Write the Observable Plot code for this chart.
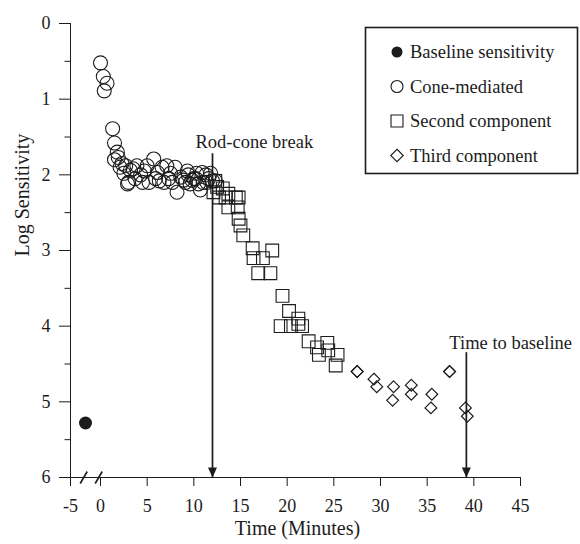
<!DOCTYPE html>
<html>
<head>
<meta charset="utf-8">
<script src="https://cdn.jsdelivr.net/npm/d3@7"></script>
<script src="https://cdn.jsdelivr.net/npm/@observablehq/plot@0.6"></script>
<style>
  body { margin: 0; background: #fff; }
  #chart { position: relative; width: 580px; height: 544px; }
</style>
</head>
<body>
<div id="chart"></div>
<script>
// ---- data ----
const xTicks = [-5, 0, 5, 10, 15, 20, 25, 30, 35, 40, 45];
const yTicks = [0, 1, 2, 3, 4, 5, 6];
const yMinorTicks = [0.5, 1.5, 2.5, 3.5, 4.5, 5.5];
const axisBreaks = [-2.8, -0.3];

const baselineT = [-2.5];
const baselineV = [5.28];

const coneT = [0.0, 0.3, 0.7, 0.4, 1.3, 1.5, 1.8, 1.9, 1.5, 2.1, 2.5, 2.7, 2.9, 3.0, 3.2, 3.7, 3.9, 4.3, 4.5, 5.0,
  5.2, 5.7, 5.9, 6.1, 6.6, 6.8, 7.1, 7.5, 7.7, 8.0, 8.2, 8.6, 8.9, 9.1, 9.4, 9.6, 9.8, 10.0, 10.3, 10.5,
  10.7, 10.9, 11.0, 11.3, 11.4, 11.6, 12.0, 12.3, 2.3, 3.5, 4.7, 6.3, 7.3, 9.3, 10.2, 11.8];
const coneV = [0.52, 0.70, 0.79, 0.89, 1.39, 1.58, 1.70, 1.77, 1.80, 1.90, 1.98, 1.88, 2.12, 2.10, 1.94, 2.05, 1.88, 2.00, 2.10, 1.88,
  2.10, 1.79, 2.05, 1.97, 1.90, 2.10, 1.88, 1.98, 2.10, 1.90, 2.23, 2.03, 2.07, 2.10, 2.00, 2.12, 2.07, 2.05, 1.98, 2.12,
  2.20, 1.97, 2.10, 2.00, 2.10, 2.05, 2.08, 2.08, 1.85, 1.92, 1.95, 2.08, 2.05, 1.95, 2.05, 1.98];

const secondT = [12.3, 12.5, 12.1, 13.1, 13.4, 12.7, 13.7, 14.8, 14.5, 13.7, 14.7, 14.8, 15.0, 15.3, 16.3, 16.4, 17.4,
  18.4, 16.9, 18.2, 19.5, 20.2, 21.2, 19.3, 20.4, 21.6, 21.2, 22.3, 23.2, 24.3, 23.4, 24.4, 25.4, 25.2];
const secondV = [2.08, 2.16, 2.23, 2.18, 2.30, 2.30, 2.25, 2.30, 2.30, 2.43, 2.43, 2.58, 2.67, 2.80, 2.97, 3.10, 3.10,
  3.00, 3.30, 3.30, 3.60, 3.80, 3.90, 4.00, 4.00, 4.00, 3.97, 4.20, 4.28, 4.22, 4.38, 4.32, 4.38, 4.52];

const thirdT = [27.5, 27.5, 29.3, 29.6, 31.4, 31.3, 33.3, 33.3, 35.5, 35.4, 37.4, 37.4, 39.1, 39.3];
const thirdV = [4.60, 4.60, 4.70, 4.80, 4.80, 4.98, 4.78, 4.90, 4.90, 5.08, 4.60, 4.60, 5.08, 5.19];

const arrowLabels = ["Rod-cone break", "Time to baseline"];
const arrowT = [12.0, 39.2];
const arrowTopV = [1.72, 4.35];
const arrowLabelV = [1.57, 4.22];

const legendLabels = ["Baseline sensitivity", "Cone-mediated", "Second component", "Third component"];

const xTitle = "Time (Minutes)";
const yTitle = "Log Sensitivity";

// ---- build tables ----
const rows = (T, V) => T.map((t, i) => ({t, v: V[i]}));
const baseline = rows(baselineT, baselineV);
const cone = rows(coneT, coneV);
const second = rows(secondT, secondV);
const third = rows(thirdT, thirdV);
const yMax = yTicks[yTicks.length - 1];
const arrows = arrowLabels.map((label, i) => ({label, t: arrowT[i], top: arrowTopV[i], ly: arrowLabelV[i], bottom: yMax}));
const minor = yMinorTicks.map(v => ({t: xTicks[0], v}));
const breaks = axisBreaks.map(t => ({t, v: yMax}));

// broken x axis: the -5..0 stretch is compressed to 1/15 of the axis;
// the piecewise domain gets an evenly spread range (15 equal pieces).
const xMin = xTicks[0], xMax = xTicks[xTicks.length - 1];
const xDomain = [xMin, ...d3.range(15).map(i => i * xMax / 14)];

const ink = "#1c1c1c";
const serif = "'Liberation Serif', 'Times New Roman', serif";

const minorSym = {draw(ctx) { ctx.moveTo(-6, 0); ctx.lineTo(0, 0); }};
const slashSym = {draw(ctx) { ctx.moveTo(-3.5, 6); ctx.lineTo(3.5, -6); }};
const headSym = {draw(ctx) { ctx.moveTo(0, 0); ctx.lineTo(-4.5, -10); ctx.lineTo(4.5, -10); ctx.closePath(); }};

const plot = Plot.plot({
  width: 580,
  height: 544,
  marginLeft: 70,
  marginRight: 60,
  marginTop: 23,
  marginBottom: 67,
  style: {fontFamily: serif, fontSize: "18px", color: ink, background: "white"},
  x: {type: "linear", domain: xDomain, ticks: xTicks, tickFormat: d => String(d),
      tickSize: 9, tickPadding: 13, label: null, line: true},
  y: {type: "linear", domain: [0, yMax], reverse: true, ticks: yTicks, tickFormat: d => String(d),
      tickSize: 11, tickPadding: 9, label: null, line: true},
  marks: [
    Plot.dot(minor, {x: "t", y: "v", symbol: minorSym, r: 5, stroke: ink, fill: "none", strokeWidth: 1}),
    Plot.dot(breaks, {x: "t", y: "v", symbol: slashSym, r: 5, stroke: ink, fill: "none", strokeWidth: 1.6}),
    Plot.ruleX(arrows, {x: "t", y1: "top", y2: "bottom", stroke: ink, strokeWidth: 1.7}),
    Plot.dot(arrows, {x: "t", y: "bottom", symbol: headSym, r: 5, fill: ink, stroke: "none"}),
    Plot.text(arrows, {x: "t", y: "ly", text: "label", textAnchor: "start", dx: -17, fontSize: 18.5, fill: ink}),
    Plot.dot(cone, {x: "t", y: "v", r: 7, stroke: ink, strokeWidth: 1.1, fill: "none"}),
    Plot.dot(second, {x: "t", y: "v", symbol: "square", r: 7.2, stroke: ink, strokeWidth: 1.1, fill: "none"}),
    Plot.dot(third, {x: "t", y: "v", symbol: "diamond2", r: 5.3, stroke: ink, strokeWidth: 1.2, fill: "none"}),
    Plot.dot(baseline, {x: "t", y: "v", r: 6.5, fill: ink, stroke: "none"}),
    Plot.text([xTitle], {text: d => d, frameAnchor: "bottom", dy: 57, dx: 2, fontSize: 20, fill: ink}),
    Plot.text([yTitle], {text: d => d, frameAnchor: "left", rotate: -90, dx: -48, dy: 6, fontSize: 20, fill: ink})
  ]
});

document.getElementById("chart").appendChild(plot);

// ---- legend box (inside the plot, top right) ----
const svg = d3.select(plot);
const lg = svg.append("g").attr("font-family", serif).attr("font-size", 18.5)
  .attr("fill", ink).attr("text-anchor", "start");
lg.append("rect").attr("x", 365.5).attr("y", 27.5).attr("width", 212).attr("height", 146)
  .attr("fill", "white").attr("stroke", ink).attr("stroke-width", 1.6);
const legendSymbols = [
  {type: d3.symbolCircle, size: Math.PI * 5.5 * 5.5, filled: true},
  {type: d3.symbolCircle, size: Math.PI * 6 * 6, filled: false},
  {type: d3.symbolSquare, size: 144, filled: false},
  {type: d3.symbolDiamond2, size: 100, filled: false}
];
legendLabels.forEach((label, i) => {
  const cy = 52 + i * 34.5;
  const s = legendSymbols[i];
  lg.append("path").attr("d", d3.symbol(s.type, s.size)())
    .attr("transform", `translate(397,${cy})`)
    .attr("fill", s.filled ? ink : "none")
    .attr("stroke", s.filled ? "none" : ink).attr("stroke-width", 1.1);
  lg.append("text").attr("x", 410).attr("y", cy).attr("dy", "0.33em").text(label);
});
</script>
</body>
</html>
